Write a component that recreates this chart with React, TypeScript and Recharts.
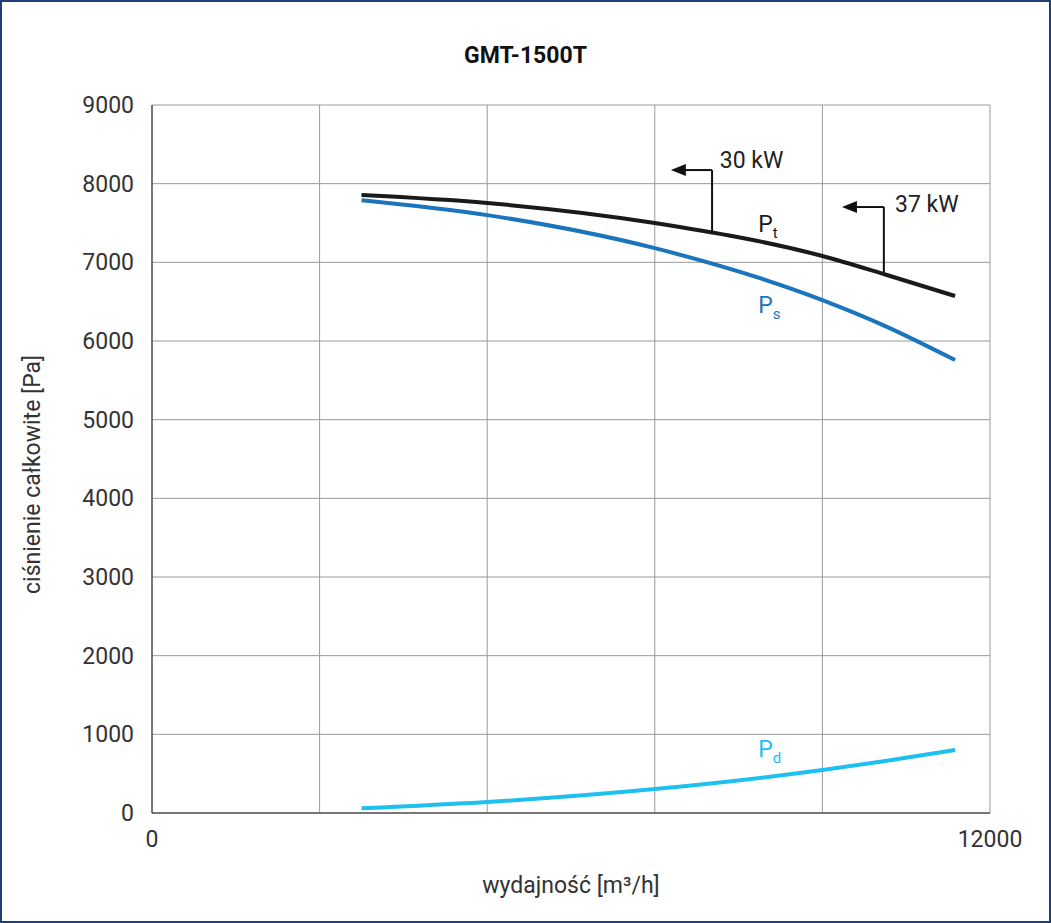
import { LineChart, Line, XAxis, YAxis, CartesianGrid, ReferenceLine, ReferenceDot } from "recharts";

const flow = [3000, 4800, 7200, 9600, 10500, 11500];
const totalPressure = [7855, 7754, 7500, 7080, 6845, 6572];
const staticPressure = [7790, 7600, 7180, 6520, 6190, 5758];
const dynamicPressure = [60, 140, 305, 546, 660, 800];
const xTicks = [0, 2400, 4800, 7200, 9600, 12000];
const yTicks = [0, 1000, 2000, 3000, 4000, 5000, 6000, 7000, 8000, 9000];

const data = flow.map((q, i) => ({
  q,
  pt: totalPressure[i],
  ps: staticPressure[i],
  pd: dynamicPressure[i],
}));

const font = "Roboto, 'DejaVu Sans', sans-serif";

// arrowhead whose tip sits on the reference point
const arrowLeft = (props: any) => (
  <path d={`M${props.cx},${props.cy} L${props.cx + 15},${props.cy - 6} L${props.cx + 15},${props.cy + 6} Z`} fill="#111" />
);

const subLabel = (main: string, sub: string, color: string) => (props: any) => (
  <text x={props.cx} y={props.cy} fill={color} fontSize={23} fontFamily={font}>
    {main}
    <tspan fontSize={15} dy={6}>{sub}</tspan>
  </text>
);

const plainLabel = (txt: string) => (props: any) => (
  <text x={props.cx} y={props.cy} fill="#222" fontSize={23} fontFamily={font}>{txt}</text>
);

export default function App() {
  return (
    <div style={{ position: "absolute", left: 0, top: 0, width: 1051, height: 923, border: "2px solid #1d3f73", boxSizing: "border-box", background: "#fff" }}>
      <div style={{ position: "absolute", top: 40, width: "100%", textAlign: "center", fontFamily: font, fontWeight: 700, fontSize: 23, color: "#111" }}>
        GMT-1500T
      </div>
      <div style={{ position: "absolute", left: -2, top: -2 }}>
        <LineChart width={1051} height={923} data={data} margin={{ top: 105, right: 61, left: 72, bottom: 80 }}>
          <CartesianGrid stroke="#9a9a9a" strokeWidth={1} />
          <XAxis
            type="number"
            dataKey="q"
            domain={[0, 12000]}
            ticks={xTicks}
            tickFormatter={(v) => (v === 0 || v === 12000 ? String(v) : "")}
            axisLine={{ stroke: "#222" }}
            tickLine={false}
            height={30}
            tick={{ fontSize: 23, fill: "#333", fontFamily: font }}
            tickMargin={12}
            label={{ value: "wydajność [m³/h]", position: "insideBottom", offset: -50, fontSize: 23, fill: "#333", fontFamily: font }}
          />
          <YAxis
            type="number"
            domain={[0, 9000]}
            ticks={yTicks}
            axisLine={{ stroke: "#222" }}
            tickLine={false}
            width={80}
            tick={{ fontSize: 23, fill: "#333", fontFamily: font }}
            tickMargin={12}
            label={{ value: "ciśnienie całkowite [Pa]", angle: -90, position: "insideLeft", offset: -40, dy: 135, fontSize: 23, fill: "#333", fontFamily: font }}
          />
          <Line dataKey="pt" type="monotone" stroke="#1a1a1a" strokeWidth={4} dot={false} isAnimationActive={false} />
          <Line dataKey="ps" type="monotone" stroke="#1a75bc" strokeWidth={4} dot={false} isAnimationActive={false} />
          <Line dataKey="pd" type="monotone" stroke="#1ec0f0" strokeWidth={4} dot={false} isAnimationActive={false} />
          <ReferenceLine segment={[{ x: 8020, y: 7373 }, { x: 8020, y: 8173 }]} stroke="#111" strokeWidth={2} />
          <ReferenceLine segment={[{ x: 8020, y: 8173 }, { x: 7600, y: 8173 }]} stroke="#111" strokeWidth={2} />
          <ReferenceDot x={7430} y={8173} r={0} shape={arrowLeft} />
          <ReferenceLine segment={[{ x: 10480, y: 6877 }, { x: 10480, y: 7703 }]} stroke="#111" strokeWidth={2} />
          <ReferenceLine segment={[{ x: 10480, y: 7703 }, { x: 10050, y: 7703 }]} stroke="#111" strokeWidth={2} />
          <ReferenceDot x={9880} y={7703} r={0} shape={arrowLeft} />
          <ReferenceDot x={8130} y={8200} r={0} shape={plainLabel("30 kW")} />
          <ReferenceDot x={10640} y={7640} r={0} shape={plainLabel("37 kW")} />
          <ReferenceDot x={8680} y={7380} r={0} shape={subLabel("P", "t", "#1a1a1a")} />
          <ReferenceDot x={8680} y={6350} r={0} shape={subLabel("P", "s", "#1a75bc")} />
          <ReferenceDot x={8680} y={715} r={0} shape={subLabel("P", "d", "#1ec0f0")} />
        </LineChart>
      </div>
    </div>
  );
}
